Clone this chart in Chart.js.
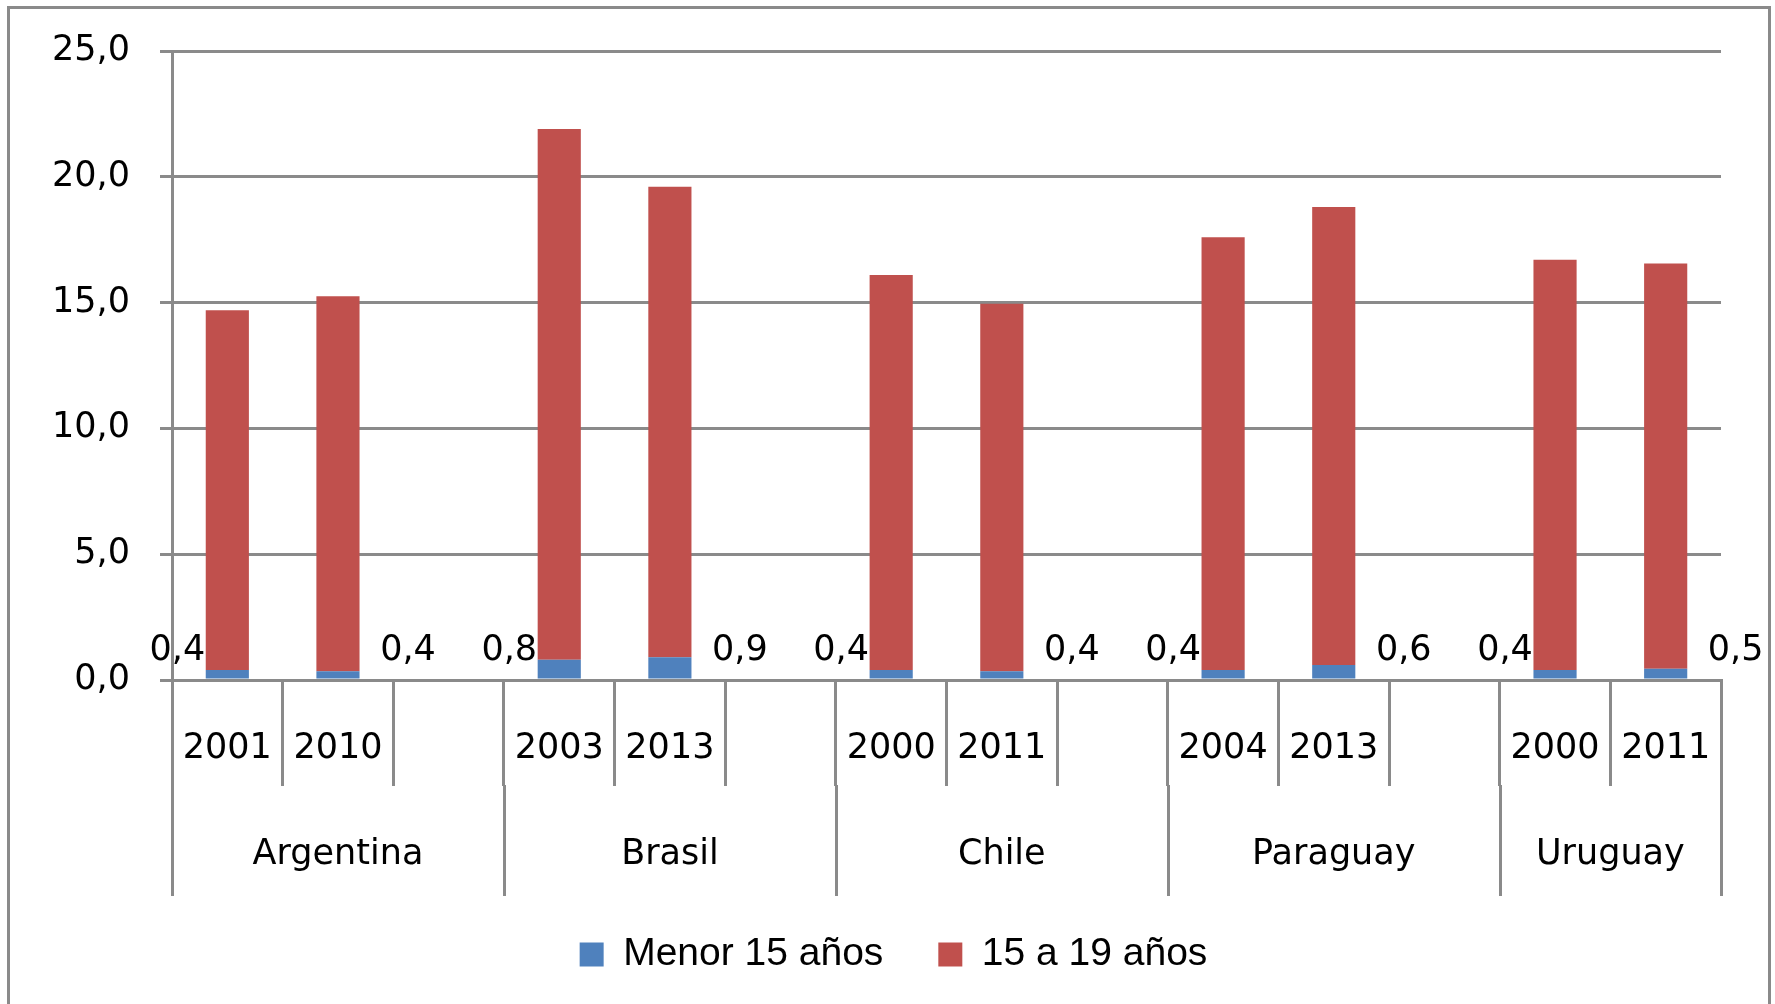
<!DOCTYPE html>
<html>
<head>
<meta charset="utf-8">
<script src="https://cdn.jsdelivr.net/npm/chart.js@4.4.0/dist/chart.umd.min.js"></script>
<style>
  body { margin: 0; background: #fff; }
  #wrap { position: relative; width: 1775px; height: 1004px; }
</style>
</head>
<body>
<div id="wrap"><canvas id="chart"></canvas></div>
<script>
// years shown under each bar, empty slots separate the countries
const yearLabels = ["2001", "2010", "", "2003", "2013", "", "2000", "2011", "", "2004", "2013", "", "2000", "2011"];
const countries = ["Argentina", "Brasil", "Chile", "Paraguay", "Uruguay"];
const groupSizes = [3, 3, 3, 3, 2];

// series values (%)
const menor15 = [0.4, 0.35, null, 0.8, 0.9, null, 0.4, 0.35, null, 0.4, 0.6, null, 0.4, 0.45];
const de15a19 = [14.3, 14.9, null, 21.1, 18.7, null, 15.7, 14.6, null, 17.2, 18.2, null, 16.3, 16.1];

// y axis
const yMin = 0;
const yMax = 25;
const yStep = 5;

const gridColor = "#8a8a8a";
const tickFont = { family: "DejaVu Sans", size: 35 };

function fmt(v) {
  return (Math.round(v * 10) / 10).toFixed(1).replace(".", ",");
}

// outer frame of the chart
const framePlugin = {
  id: "frame",
  beforeDraw(chart) {
    const ctx = chart.ctx;
    ctx.save();
    ctx.strokeStyle = gridColor;
    ctx.lineWidth = 3;
    ctx.strokeRect(8.5, 7.5, chart.width - 14, chart.height + 50);
    ctx.restore();
  },
};

// the legend sits a bit right of the centre in the original
const legendShiftPlugin = {
  id: "legendShift",
  afterLayout(chart) {
    chart.legend.left += 33;
    chart.legend.right += 33;
  },
};

// second level of the category axis: country names and long separators
const countryAxisPlugin = {
  id: "countryAxis",
  afterDraw(chart) {
    const x = chart.scales.x;
    const ctx = chart.ctx;
    const slot = x.getPixelForValue(1) - x.getPixelForValue(0);
    const base = chart.chartArea.bottom;
    const yearBottom = base + x.options.grid.tickLength;
    const groupBottom = base + 216;
    ctx.save();
    ctx.strokeStyle = gridColor;
    ctx.lineWidth = 3;
    ctx.fillStyle = "#000";
    ctx.font = "35px 'DejaVu Sans'";
    ctx.textAlign = "center";
    ctx.textBaseline = "middle";
    let start = 0;
    const edges = [0];
    groupSizes.forEach((n, g) => {
      const left = x.getPixelForValue(start) - slot / 2;
      const right = x.getPixelForValue(start + n - 1) + slot / 2;
      ctx.fillText(countries[g], (left + right) / 2, base + 175);
      start += n;
      edges.push(start);
    });
    edges.forEach((k) => {
      const px = Math.round(x.getPixelForValue(k) - slot / 2) + 0.5;
      ctx.beginPath();
      ctx.moveTo(px, yearBottom - 1);
      ctx.lineTo(px, groupBottom);
      ctx.stroke();
    });
    ctx.restore();
  },
};

// labels of the "Menor 15 años" series, set beside the bars
const valueLabelPlugin = {
  id: "valueLabels",
  afterDatasetsDraw(chart) {
    const ctx = chart.ctx;
    const meta = chart.getDatasetMeta(0);
    const base = chart.chartArea.bottom;
    ctx.save();
    ctx.fillStyle = "#000";
    ctx.font = "35px 'DejaVu Sans'";
    ctx.textAlign = "center";
    ctx.textBaseline = "middle";
    let start = 0;
    groupSizes.forEach((n) => {
      for (let i = start; i < start + n; i++) {
        const v = menor15[i];
        if (v === null) continue;
        const bar = meta.data[i];
        const shift = i === start ? -50 : 70;
        ctx.fillText(fmt(v), bar.x + shift, base - 29);
      }
      start += n;
    });
    ctx.restore();
  },
};

const ctx = document.getElementById("chart").getContext("2d");
const chart = new Chart(ctx, {
  type: "bar",
  data: {
    labels: yearLabels,
    datasets: [
      {
        label: "Menor 15 años",
        data: menor15,
        backgroundColor: "#4F81BD",
        categoryPercentage: 1,
        barPercentage: 0.39,
      },
      {
        label: "15 a 19 años",
        data: de15a19,
        backgroundColor: "#C0504D",
        categoryPercentage: 1,
        barPercentage: 0.39,
      },
    ],
  },
  options: {
    responsive: true,
    maintainAspectRatio: false,
    animation: false,
    layout: {
      padding: { left: 0, right: 54, top: 48, bottom: 20 },
    },
    plugins: {
      legend: {
        position: "bottom",
        labels: {
          boxWidth: 24,
          boxHeight: 24,
          padding: 55,
          color: "#000",
          font: { family: "Liberation Sans", size: 39 },
        },
      },
      tooltip: { enabled: false },
    },
    scales: {
      x: {
        stacked: true,
        offset: true,
        grid: {
          offset: true,
          drawOnChartArea: false,
          tickLength: 106,
          color: gridColor,
          lineWidth: 3,
        },
        border: { display: true, color: gridColor, width: 3 },
        ticks: {
          color: "#000",
          font: tickFont,
          padding: -58,
          maxRotation: 0,
          autoSkip: false,
        },
        afterFit(scale) {
          scale.height = 200;
        },
      },
      y: {
        stacked: true,
        min: yMin,
        max: yMax,
        grid: {
          color: gridColor,
          lineWidth: 3,
          tickLength: 12,
        },
        border: { display: true, color: gridColor, width: 3 },
        ticks: {
          stepSize: yStep,
          color: "#000",
          font: tickFont,
          padding: 30,
          callback: (v) => fmt(v),
        },
        afterFit(scale) {
          scale.width = 172;
        },
      },
    },
  },
  plugins: [framePlugin, legendShiftPlugin, countryAxisPlugin, valueLabelPlugin],
});
</script>
</body>
</html>
